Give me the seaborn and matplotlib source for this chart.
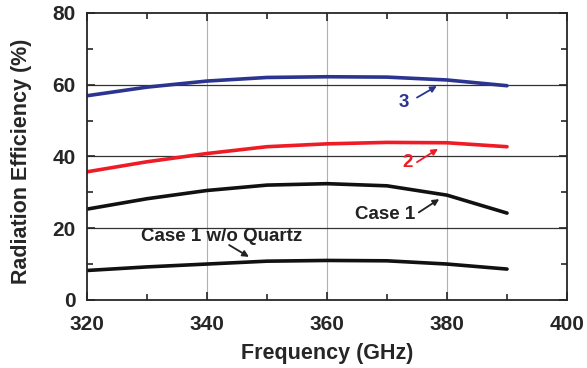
import matplotlib
matplotlib.use("Agg")
import matplotlib.pyplot as plt
import seaborn as sns
import pandas as pd
from matplotlib.ticker import MultipleLocator

freq = [320, 330, 340, 350, 360, 370, 380, 390]
case3 = [56.9, 59.3, 61.0, 62.0, 62.2, 62.1, 61.3, 59.7]
case2 = [35.7, 38.5, 40.8, 42.7, 43.5, 43.9, 43.8, 42.7]
case1 = [25.3, 28.2, 30.5, 32.0, 32.4, 31.8, 29.2, 24.2]
case1_noq = [8.2, 9.2, 10.0, 10.8, 11.0, 10.9, 10.0, 8.6]

series = {"3": case3, "2": case2, "Case 1": case1, "Case 1 w/o Quartz": case1_noq}
colors = {"3": "#2b3590", "2": "#ee1c25", "Case 1": "#111111", "Case 1 w/o Quartz": "#111111"}

df = pd.DataFrame([(f, v, k) for k, vals in series.items() for f, v in zip(freq, vals)],
                  columns=["freq", "eff", "case"])

sns.set_style("ticks")
plt.rcParams['font.family'] = ['Liberation Sans', 'DejaVu Sans']
plt.rcParams['font.weight'] = 'bold'

fig, ax = plt.subplots(figsize=(5.87, 3.68), dpi=100)
fig.subplots_adjust(left=0.148, right=0.966, top=0.965, bottom=0.185)

for x in [340, 360, 380]:
    ax.axvline(x, color="#b0b0b0", lw=0.8, zorder=0)
for y in [20, 40, 60]:
    ax.axhline(y, color="#333333", lw=0.9, zorder=0)

sns.lineplot(data=df, x="freq", y="eff", hue="case", palette=colors, lw=2.6,
             legend=False, ax=ax, sort=False)

ax.set_xlim(320, 400)
ax.set_ylim(0, 80)
ax.xaxis.set_major_locator(MultipleLocator(20))
ax.xaxis.set_minor_locator(MultipleLocator(10))
ax.yaxis.set_major_locator(MultipleLocator(20))
ax.yaxis.set_minor_locator(MultipleLocator(10))
ax.tick_params(which="both", direction="in", top=True, right=True, width=1.2)
ax.tick_params(which="major", length=6, labelsize=15)
ax.tick_params(axis="x", which="major", pad=11)
ax.tick_params(axis="y", which="major", pad=8)
ax.tick_params(which="minor", length=4)
for lab in ax.get_xticklabels() + ax.get_yticklabels():
    lab.set_fontweight("bold")
for s in ax.spines.values():
    s.set_linewidth(1.3)

ax.set_xlabel("Frequency (GHz)", fontsize=15.5, fontweight="bold")
ax.set_ylabel("Radiation Efficiency (%)", fontsize=15.5, fontweight="bold")
ax.xaxis.set_label_coords(0.5, -0.150)
ax.yaxis.set_label_coords(-0.115, 0.484)

def note(text, xy_text, tail, tip, color):
    ax.text(*xy_text, text, color=color, fontsize=13.5, fontweight="bold",
            ha="center", va="center")
    ax.annotate("", xy=tip, xytext=tail,
                arrowprops=dict(arrowstyle="-|>", color=color, lw=1.3,
                                mutation_scale=9, shrinkA=0, shrinkB=0))

note("3", (372.8, 54.9), (375.0, 56.4), (378.3, 59.6), colors["3"])
note("2", (373.5, 38.2), (375.0, 38.4), (378.5, 42.1), colors["2"])
note("Case 1", (369.7, 23.7), (375.3, 24.4), (378.7, 28.1), "#222222")
note("Case 1 w/o Quartz", (342.5, 17.6), (343.7, 15.3), (347.0, 12.0), "#222222")

fig.savefig("out.png", dpi=100)
